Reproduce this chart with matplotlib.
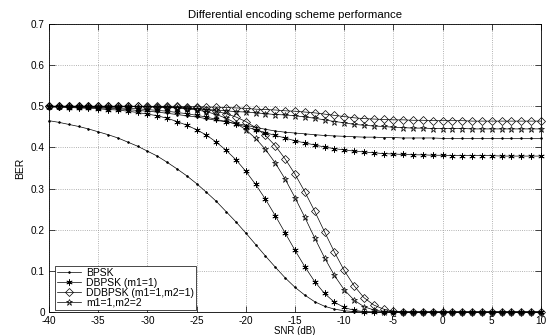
import numpy as np
import matplotlib
matplotlib.use('Agg')
import matplotlib.pyplot as plt

snr = np.arange(-40, 11)  # dB, one point per dB

# lower set (labelled in the legend)
bpsk = [0.465, 0.461, 0.456, 0.451, 0.445, 0.438, 0.431, 0.423, 0.413, 0.403,
        0.391, 0.379, 0.364, 0.348, 0.331, 0.312, 0.291, 0.269, 0.244, 0.219,
        0.192, 0.164, 0.136, 0.109, 0.083, 0.060, 0.041, 0.025, 0.014, 0.007,
        0.003, 0.001] + [0.0] * 19
dbpsk = [0.498, 0.498, 0.497, 0.496, 0.495, 0.494, 0.492, 0.491, 0.488, 0.485,
         0.481, 0.477, 0.471, 0.463, 0.454, 0.443, 0.430, 0.413, 0.393, 0.370,
         0.342, 0.310, 0.274, 0.234, 0.192, 0.150, 0.110, 0.074, 0.045, 0.024,
         0.011, 0.004, 0.001] + [0.0] * 18
ddbpsk = [0.500] * 10 + [0.499, 0.499, 0.499, 0.498, 0.496, 0.495, 0.492, 0.488,
          0.482, 0.474, 0.463, 0.448, 0.429, 0.404, 0.372, 0.335, 0.292, 0.245,
          0.195, 0.146, 0.101, 0.064, 0.035, 0.017, 0.007, 0.002] + [0.0] * 15
m1m2 = [0.500] * 9 + [0.499, 0.499, 0.498, 0.497, 0.496, 0.494, 0.491, 0.487,
        0.480, 0.471, 0.459, 0.443, 0.422, 0.395, 0.362, 0.323, 0.278, 0.230,
        0.180, 0.132, 0.089, 0.054, 0.029, 0.013, 0.005, 0.001] + [0.0] * 16

# upper set (same markers, levelling off)
bpsk_b = [0.499, 0.499, 0.498, 0.498, 0.497, 0.496, 0.495, 0.494, 0.492, 0.490,
          0.488, 0.486, 0.483, 0.480, 0.477, 0.474, 0.470, 0.466, 0.462, 0.458,
          0.454, 0.449, 0.444, 0.440, 0.437, 0.435, 0.433, 0.431, 0.429, 0.428,
          0.427, 0.426, 0.425, 0.425, 0.424, 0.424, 0.423, 0.423, 0.423, 0.423] + [0.422] * 11
dbpsk_b = [0.499, 0.499, 0.499, 0.498, 0.498, 0.497, 0.497, 0.496, 0.495, 0.494,
           0.492, 0.490, 0.488, 0.485, 0.482, 0.478, 0.474, 0.468, 0.463, 0.457,
           0.450, 0.443, 0.436, 0.429, 0.423, 0.416, 0.411, 0.406, 0.401, 0.397,
           0.394, 0.391, 0.389, 0.387, 0.385, 0.384, 0.383, 0.382, 0.382, 0.381,
           0.381, 0.380, 0.380, 0.380, 0.380, 0.380, 0.379, 0.379, 0.379, 0.379, 0.379]
ddbpsk_b = [0.500] * 14 + [0.499, 0.499, 0.498, 0.498, 0.497, 0.496, 0.495, 0.493,
            0.492, 0.491, 0.489, 0.488, 0.486, 0.484, 0.481, 0.478, 0.475, 0.472,
            0.470, 0.469, 0.468, 0.467, 0.467, 0.466, 0.466, 0.465, 0.465, 0.465,
            0.465] + [0.464] * 8
m1m2_b = [0.500] * 5 + [0.499] * 6 + [0.498, 0.498, 0.497, 0.495, 0.494, 0.492,
          0.491, 0.489, 0.487, 0.486, 0.484, 0.482, 0.480, 0.479, 0.477, 0.474,
          0.471, 0.467, 0.463, 0.460, 0.456, 0.454, 0.452, 0.451, 0.449, 0.448,
          0.447, 0.447, 0.446, 0.446, 0.446, 0.446] + [0.445] * 8

plt.rcParams['font.family'] = 'Liberation Sans'
plt.rcParams['axes.unicode_minus'] = False

fig = plt.figure(figsize=(5.48, 3.35), dpi=100)
ax = fig.add_axes([49 / 548, 23 / 335, 492 / 548, 288 / 335])

kw = dict(color='k', lw=0.5, mew=0.5, clip_on=False)
ax.plot(snr, bpsk, marker='.', ms=2.5, label='BPSK', **kw)
ax.plot(snr, dbpsk, marker=(6, 2, 0), ms=4.5, label='DBPSK (m1=1)', **kw)
ax.plot(snr, ddbpsk, marker='D', ms=4, mfc='none', label='DDBPSK (m1=1,m2=1)', **kw)
ax.plot(snr, m1m2, marker='*', ms=5, mfc='none', label='m1=1,m2=2', **kw)
ax.plot(snr, bpsk_b, marker='.', ms=2.5, **kw)
ax.plot(snr, dbpsk_b, marker=(6, 2, 0), ms=4.5, **kw)
ax.plot(snr, ddbpsk_b, marker='D', ms=4, mfc='none', **kw)
ax.plot(snr, m1m2_b, marker='*', ms=5, mfc='none', **kw)

ax.set_xlim(-40, 10)
ax.set_ylim(0, 0.7)
ax.set_xticks(np.arange(-40, 11, 5))
ax.set_yticks(np.arange(0, 0.71, 0.1))
ax.set_yticklabels(['0', '0.1', '0.2', '0.3', '0.4', '0.5', '0.6', '0.7'])
ax.tick_params(direction='in', top=True, right=True, labelsize=7.2, length=4, width=0.5)
ax.tick_params(axis='x', pad=3)
ax.tick_params(axis='y', pad=3)
ax.grid(True, linestyle=':', color='0.6', lw=0.6)
for s in ax.spines.values():
    s.set_linewidth(0.6)

ax.set_title('Differential encoding scheme performance', fontsize=8.2, pad=4)
ax.set_xlabel('SNR (dB)', fontsize=7, labelpad=0)
ax.set_ylabel('BER', fontsize=7.5, labelpad=4)

leg = ax.legend(loc='lower left', bbox_to_anchor=(6 / 492, 2 / 288), borderaxespad=0,
                fontsize=7.5, frameon=True, fancybox=False, framealpha=1,
                edgecolor='k', handlelength=2.3, handletextpad=0.5,
                labelspacing=0.0, borderpad=0.2)
leg.get_frame().set_linewidth(0.5)

fig.savefig('out.png', dpi=100)
